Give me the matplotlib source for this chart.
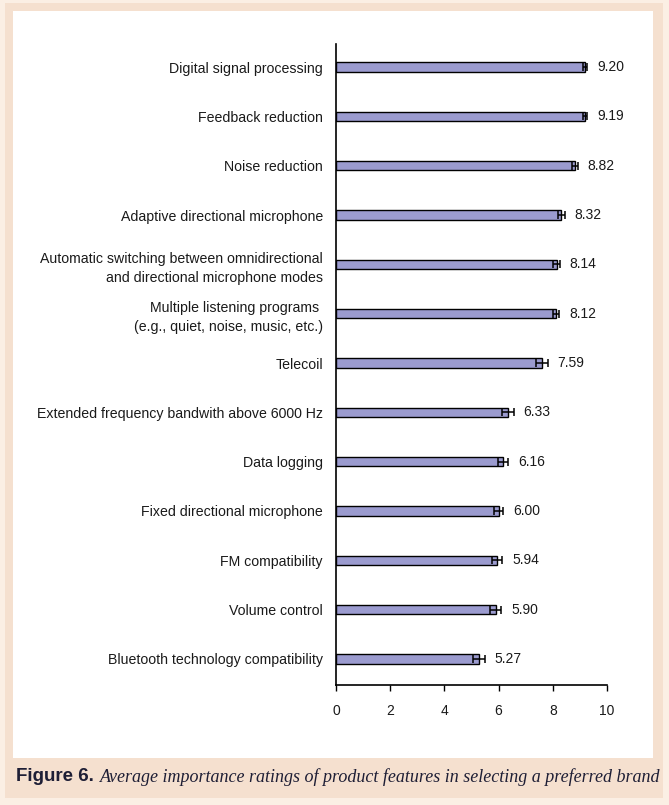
import matplotlib.pyplot as plt
from matplotlib.patches import Rectangle

# Feature ratings (top to bottom as shown in the figure)
features = [
    'Digital signal processing',
    'Feedback reduction',
    'Noise reduction',
    'Adaptive directional microphone',
    'Automatic switching between omnidirectional\nand directional microphone modes',
    'Multiple listening programs \n(e.g., quiet, noise, music, etc.)',
    'Telecoil',
    'Extended frequency bandwith above 6000 Hz',
    'Data logging',
    'Fixed directional microphone',
    'FM compatibility',
    'Volume control',
    'Bluetooth technology compatibility',
]
ratings = [9.20, 9.19, 8.82, 8.32, 8.14, 8.12, 7.59, 6.33, 6.16, 6.00, 5.94, 5.90, 5.27]
errors = [0.08, 0.08, 0.10, 0.12, 0.12, 0.12, 0.22, 0.22, 0.20, 0.18, 0.20, 0.20, 0.22]
xticks = [0, 2, 4, 6, 8, 10]

plt.rcParams['font.family'] = ['Liberation Sans', 'DejaVu Sans']

fig = plt.figure(figsize=(6.69, 8.05), dpi=100)
fig.patch.set_facecolor('#fbefe4')

# beige frame and white panel
W, H = 669, 805
fig.patches.append(Rectangle((5 / W, 1 - 798 / H), 658 / W, 795 / H,
                             transform=fig.transFigure, facecolor='#f5e0cf',
                             edgecolor='none', zorder=-2))
fig.patches.append(Rectangle((13 / W, 1 - 758 / H), 640 / W, 747 / H,
                             transform=fig.transFigure, facecolor='white',
                             edgecolor='none', zorder=-1))

ax = fig.add_axes([336 / W, 1 - 685 / H, (607 - 336) / W, (685 - 44) / H])
ax.set_zorder(1)
ax.patch.set_alpha(0)

n = len(features)
ypos = list(range(n - 1, -1, -1))
ax.barh(ypos, ratings, height=0.19, color='#9b9bcf', edgecolor='black',
        linewidth=1.0, zorder=2)
ax.errorbar(ratings, ypos, xerr=errors, fmt='none', ecolor='black',
            elinewidth=1.1, capsize=2.8, capthick=1.1, zorder=3)

for y, v, e in zip(ypos, ratings, errors):
    ax.annotate(f'{v:.2f}', xy=(v + e, y), xytext=(7, 0),
                textcoords='offset points', va='center', ha='left',
                fontsize=10, color='#1a1a1a')

ax.set_yticks(ypos)
ax.set_yticklabels(features, fontsize=10.2, color='#1a1a1a', linespacing=1.45)
ax.tick_params(axis='y', length=0, pad=9.5)
ax.set_xticks(xticks)
ax.set_xticklabels([str(t) for t in xticks], fontsize=10, color='#1a1a1a')
ax.tick_params(axis='x', direction='out', length=4, width=1.0, pad=10)
ax.set_xlim(0, 10)
ax.set_ylim(-0.53, n - 0.53)

for s in ['top', 'right']:
    ax.spines[s].set_visible(False)
for s in ['left', 'bottom']:
    ax.spines[s].set_linewidth(1.2)

# caption
fig.text(16 / W, 1 - 776 / H, 'Figure 6.', fontsize=13.5, fontweight='bold',
         color='#1e1e35', va='center', ha='left')
fig.text(100 / W, 1 - 777 / H,
         'Average importance ratings of product features in selecting a preferred brand',
         fontsize=13, style='italic', family=['Liberation Serif', 'DejaVu Serif'],
         color='#1e1e35', va='center', ha='left')

fig.savefig('out.png', dpi=100, facecolor=fig.get_facecolor())
